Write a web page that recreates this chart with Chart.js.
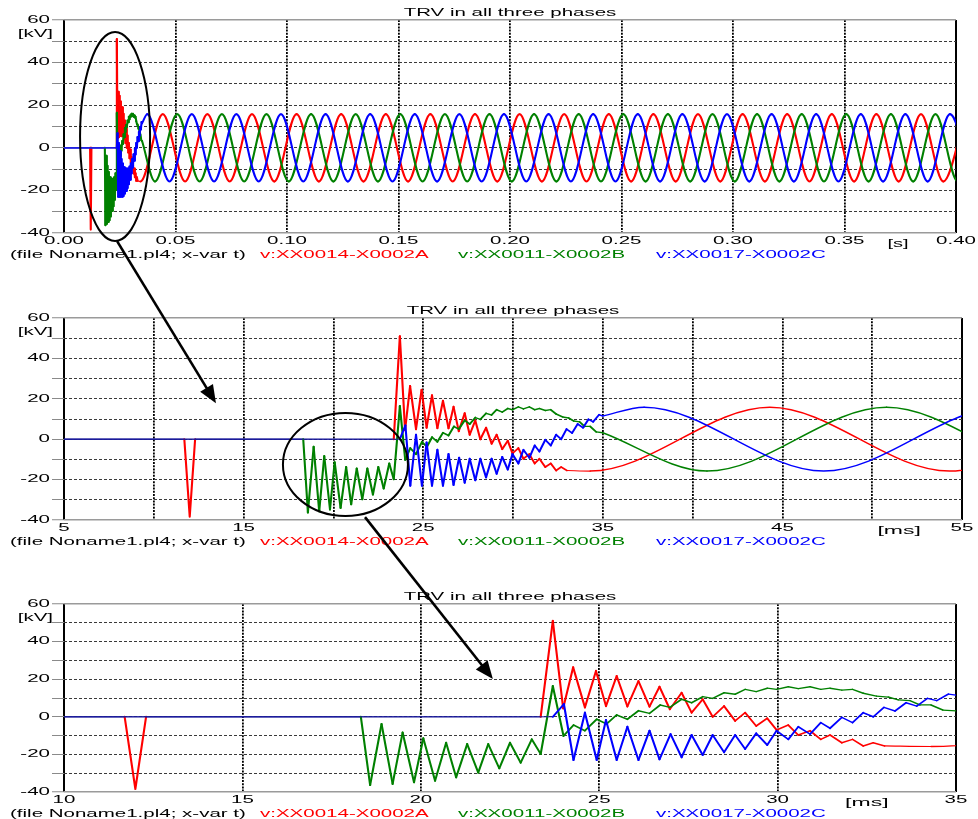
<!doctype html>
<html>
<head>
<meta charset="utf-8" />
<title>TRV in all three phases</title>
<script src="https://cdn.jsdelivr.net/npm/chart.js"></script>
<style>
  body { margin: 0; background: #fff; }
  #wrap { position: relative; width: 978px; height: 819px; }
  #wrap canvas { position: absolute; left: 0; top: 0; }
</style>
</head>
<body>
<div id="wrap">
  <canvas id="c1" width="978" height="819"></canvas>
  <canvas id="c2" width="978" height="819"></canvas>
  <canvas id="c3" width="978" height="819"></canvas>
</div>
<script>
// time in ms, voltage in kV
const TITLE = "TRV in all three phases";
const FILE_NOTE = "(file Noname1.pl4; x-var t)";
const NAMES = ["v:XX0014-X0002A", "v:XX0011-X0002B", "v:XX0017-X0002C"];

// switching transient (straight segments)
const redTransT = [0, 11.7, 12.0, 12.3, 23.36, 23.70, 23.99, 24.27, 24.60, 24.91, 25.19, 25.49, 25.79, 26.10, 26.41, 26.69, 26.98, 27.31, 27.59, 27.90, 28.18, 28.50, 28.81, 29.09, 29.40, 29.71, 29.97, 30.30, 30.58, 30.91, 31.21, 31.47, 31.80, 32.10, 32.40, 32.68, 33.0];
const redTransV = [0, 0, -38.4, 0, 0, 51.0, 4.5, 26.3, 5.0, 24.4, 5.7, 21.7, 5.5, 19.0, 5.4, 16.0, 4.0, 12.8, 2.2, 9.3, 0, 5.7, -2.2, 2.2, -4.9, -0.8, -7.0, -4.4, -9.7, -7.4, -12.0, -9.7, -13.8, -12.0, -15.5, -13.8, -15.5];

const greenTransT = [0, 18.32, 18.58, 18.90, 19.21, 19.49, 19.81, 20.07, 20.40, 20.71, 20.99, 21.30, 21.61, 21.89, 22.20, 22.50, 22.80, 23.11, 23.36, 23.70, 24.00, 24.28, 24.60, 24.93, 25.21, 25.49, 25.79, 26.10, 26.41, 26.71, 26.98, 27.31, 27.59, 27.90, 28.18, 28.50, 28.81, 29.09, 29.40, 29.71, 29.97, 30.30, 30.58, 30.91, 31.21, 31.47, 31.80, 32.10, 32.40, 32.77, 33.10, 33.38, 33.71, 33.99, 34.30, 34.63, 35.0];
const greenTransV = [0, 0, -36.3, -3.8, -35.7, -8.4, -34.8, -11.4, -34.0, -13.8, -32.2, -14.5, -29.7, -14.5, -27.4, -13.8, -24.4, -12.0, -19.8, 16.4, -10.2, -4.4, -7.4, -1.3, -3.8, 1.0, -1.3, 3.2, 1.8, 6.3, 5.0, 9.3, 7.5, 10.7, 9.8, 12.8, 12.0, 14.6, 13.4, 15.2, 14.6, 16.0, 15.0, 16.0, 14.6, 15.2, 14.2, 14.6, 12.5, 11.0, 10.5, 9.0, 8.6, 6.3, 6.3, 3.6, 3.2];

const blueTransT = [0, 23.70, 24.01, 24.28, 24.60, 24.93, 25.19, 25.49, 25.79, 26.10, 26.41, 26.69, 27.00, 27.31, 27.59, 27.90, 28.18, 28.50, 28.81, 29.09, 29.40, 29.71, 29.97, 30.30, 30.58, 30.91, 31.21, 31.47, 31.80, 32.10, 32.40, 32.68, 32.98, 33.29, 33.60, 33.90, 34.20, 34.46, 34.79, 35.0];
const blueTransV = [0, 0, 6.8, -23.0, 2.2, -23.0, -1.7, -23.0, -5.3, -23.0, -7.4, -22.6, -9.2, -21.5, -9.7, -20.3, -9.7, -18.9, -9.7, -17.1, -8.8, -15.0, -7.4, -12.0, -5.3, -9.2, -3.1, -6.1, -0.3, -3.1, 2.2, 0, 5.0, 3.1, 7.5, 5.7, 9.8, 8.6, 12.1, 11.5];

// 50 Hz steady state: peaks and troughs (smoothed by the library)
const redSteadyT = [33.0, 34.3, 44.3, 54.3, 64.3, 74.3, 84.3, 94.3, 104.3, 114.3, 124.3, 134.3, 144.3, 154.3, 164.3, 174.3, 184.3, 194.3, 204.3, 214.3, 224.3, 234.3, 244.3, 254.3, 264.3, 274.3, 284.3, 294.3, 304.3, 314.3, 324.3, 334.3, 344.3, 354.3, 364.3, 374.3, 384.3, 394.3, 404.3];
const redSteadyV = [-15.5, -15.8, 15.8, -15.8, 15.8, -15.8, 15.8, -15.8, 15.8, -15.8, 15.8, -15.8, 15.8, -15.8, 15.8, -15.8, 15.8, -15.8, 15.8, -15.8, 15.8, -15.8, 15.8, -15.8, 15.8, -15.8, 15.8, -15.8, 15.8, -15.8, 15.8, -15.8, 15.8, -15.8, 15.8, -15.8, 15.8, -15.8, 15.8];

const greenSteadyT = [35.0, 40.8, 50.8, 60.8, 70.8, 80.8, 90.8, 100.8, 110.8, 120.8, 130.8, 140.8, 150.8, 160.8, 170.8, 180.8, 190.8, 200.8, 210.8, 220.8, 230.8, 240.8, 250.8, 260.8, 270.8, 280.8, 290.8, 300.8, 310.8, 320.8, 330.8, 340.8, 350.8, 360.8, 370.8, 380.8, 390.8, 400.8, 410.8];
const greenSteadyV = [3.2, -15.8, 15.8, -15.8, 15.8, -15.8, 15.8, -15.8, 15.8, -15.8, 15.8, -15.8, 15.8, -15.8, 15.8, -15.8, 15.8, -15.8, 15.8, -15.8, 15.8, -15.8, 15.8, -15.8, 15.8, -15.8, 15.8, -15.8, 15.8, -15.8, 15.8, -15.8, 15.8, -15.8, 15.8, -15.8, 15.8, -15.8, 15.8];

const blueSteadyT = [35.0, 37.3, 47.3, 57.3, 67.3, 77.3, 87.3, 97.3, 107.3, 117.3, 127.3, 137.3, 147.3, 157.3, 167.3, 177.3, 187.3, 197.3, 207.3, 217.3, 227.3, 237.3, 247.3, 257.3, 267.3, 277.3, 287.3, 297.3, 307.3, 317.3, 327.3, 337.3, 347.3, 357.3, 367.3, 377.3, 387.3, 397.3, 407.3];
const blueSteadyV = [11.5, 15.8, -15.8, 15.8, -15.8, 15.8, -15.8, 15.8, -15.8, 15.8, -15.8, 15.8, -15.8, 15.8, -15.8, 15.8, -15.8, 15.8, -15.8, 15.8, -15.8, 15.8, -15.8, 15.8, -15.8, 15.8, -15.8, 15.8, -15.8, 15.8, -15.8, 15.8, -15.8, 15.8, -15.8, 15.8, -15.8, 15.8, -15.8];

const RED = "#ff0000", GREEN = "#008000", BLUE = "#0000ff";
// the plot's lettering is a plain sans stretched about 2x sideways
const FONT_CSS = '10px "Liberation Sans", Arial, sans-serif';
const STRETCH = 2.05;
const LEGEND_X = [10, 260, 458, 656];

// callouts: ellipse centre/radii and arrows, in the data units of each panel
const ellipses = [
  { panel: 0, t: 22.9, v: 5.3, rt: 15.7, rv: 49.1 },
  { panel: 1, t: 20.67, v: -12.5, rt: 3.48, rv: 25.5 }
];
const arrows = [
  { from: 0, t0: 23.8, v0: -43.8, to: 1, t1: 13.46, v1: 17.8 },
  { from: 1, t0: 21.76, v0: -38.6, to: 2, t1: 22.02, v1: 20.1 }
];

function pts(ts, vs) {
  return ts.map((t, i) => ({ x: t, y: vs[i] }));
}

function isZeroSeg(sc) {
  return sc.p0.parsed.y === 0 && sc.p1.parsed.y === 0;
}

// the reference looks squeezed vertically: steep strokes read thicker than flat ones
function segWidth(sc) {
  const dx = sc.p1.x - sc.p0.x, dy = sc.p1.y - sc.p0.y;
  const len = Math.hypot(dx, dy) || 1;
  return 1.2 + 0.9 * Math.abs(dy) / len;
}

function phaseSets(name, color, order, zero, trT, trV, stT, stV) {
  const common = {
    label: name,
    borderColor: color,
    pointRadius: 0,
    fill: false,
    order: order,
    borderCapStyle: "round",
    borderJoinStyle: "round",
    segment: {
      borderWidth: (sc) => (isZeroSeg(sc) ? zero.width : segWidth(sc)),
      borderColor: (sc) => (isZeroSeg(sc) ? zero.color : undefined),
    },
  };
  return [
    Object.assign({}, common, { data: pts(trT, trV), tension: 0 }),
    Object.assign({}, common, { data: pts(stT, stV), cubicInterpolationMode: "monotone" }),
  ];
}

function wideText(ctx, text, x, y, align, sx) {
  const w = ctx.measureText(text).width * sx;
  let left = x;
  if (align === "center") left = x - w / 2;
  if (align === "right") left = x - w;
  ctx.save();
  ctx.translate(left, y);
  ctx.scale(sx, 1);
  ctx.textAlign = "left";
  ctx.fillText(text, 0, 0);
  ctx.restore();
}

const panelText = {
  id: "panelText",
  afterDraw(chart, args, o) {
    const { ctx, chartArea: a, scales } = chart;
    ctx.save();
    ctx.font = FONT_CSS;
    ctx.textBaseline = "middle";
    ctx.fillStyle = "#000";
    // tick labels, placed from the library's own scales
    scales.x.ticks.forEach((t) => {
      const s = o.xLabel(t.value);
      if (s) wideText(ctx, s, scales.x.getPixelForValue(t.value), a.bottom + 8.5, "center", STRETCH);
    });
    scales.y.ticks.forEach((t) => {
      if (t.value % 20 === 0) wideText(ctx, String(t.value), a.left - 14, scales.y.getPixelForValue(t.value), "right", STRETCH);
    });
    wideText(ctx, TITLE, (a.left + a.right) / 2, a.top - 6.5, "center", STRETCH);
    wideText(ctx, "[kV]", a.left - 11, a.top + 14, "right", STRETCH);
    wideText(ctx, o.unit, scales.x.getPixelForValue(o.unitAt), a.bottom + 11.5, "center", o.unitStretch);
    const ly = a.bottom + 22;
    wideText(ctx, FILE_NOTE, LEGEND_X[0], ly, "left", STRETCH);
    [RED, GREEN, BLUE].forEach((c, i) => {
      ctx.fillStyle = c;
      wideText(ctx, NAMES[i], LEGEND_X[i + 1], ly, "left", STRETCH);
    });
    ctx.restore();
  },
};

const panels = [];

const callouts = {
  id: "callouts",
  afterDraw(chart) {
    const charts = [panels[0], panels[1], chart];
    if (!charts[0] || !charts[1]) return;
    const ctx = chart.ctx;
    const px = (c, t, v) => [c.scales.x.getPixelForValue(t), c.scales.y.getPixelForValue(v)];
    ctx.save();
    ctx.strokeStyle = "#000";
    ctx.fillStyle = "#000";
    ctx.lineWidth = 2;
    ellipses.forEach((e) => {
      const c = charts[e.panel];
      const [cx, cy] = px(c, e.t, e.v);
      const rx = Math.abs(c.scales.x.getPixelForValue(e.t + e.rt) - cx);
      const ry = Math.abs(c.scales.y.getPixelForValue(e.v + e.rv) - cy);
      ctx.beginPath();
      ctx.ellipse(cx, cy, rx, ry, 0, 0, Math.PI * 2);
      ctx.stroke();
    });
    ctx.lineWidth = 2.6;
    arrows.forEach((r) => {
      const [x0, y0] = px(charts[r.from], r.t0, r.v0);
      const [x1, y1] = px(charts[r.to], r.t1, r.v1);
      const ang = Math.atan2(y1 - y0, x1 - x0);
      const cs = Math.cos(ang), sn = Math.sin(ang);
      const hl = 18, hw = 7.5;
      const bx = x1 - hl * cs, by = y1 - hl * sn;
      ctx.beginPath();
      ctx.moveTo(x0, y0);
      ctx.lineTo(bx + 2 * cs, by + 2 * sn);
      ctx.stroke();
      ctx.beginPath();
      ctx.moveTo(x1, y1);
      ctx.lineTo(bx + hw * sn, by - hw * cs);
      ctx.lineTo(bx - hw * sn, by + hw * cs);
      ctx.closePath();
      ctx.fill();
    });
    ctx.restore();
  },
};

function makePanel(id, p) {
  const xEdge = (c) => c.tick && (c.tick.value === p.min || c.tick.value === p.max);
  const yEdge = (c) => c.tick && (c.tick.value === -40 || c.tick.value === 60);
  return new Chart(document.getElementById(id), {
    type: "line",
    data: {
      datasets: [
        ...phaseSets(NAMES[0], RED, 3, p.zero, redTransT, redTransV, redSteadyT, redSteadyV),
        ...phaseSets(NAMES[1], GREEN, 2, p.zero, greenTransT, greenTransV, greenSteadyT, greenSteadyV),
        ...phaseSets(NAMES[2], BLUE, 1, p.zero, blueTransT, blueTransV, blueSteadyT, blueSteadyV),
      ],
    },
    options: {
      responsive: false,
      animation: false,
      devicePixelRatio: 1,
      events: [],
      layout: { padding: { top: p.top, right: 978 - p.right, bottom: 819 - p.bottom - 20, left: 0 } },
      plugins: {
        legend: { display: false },
        tooltip: { enabled: false },
        panelText: { unit: p.unit, unitAt: p.unitAt, unitStretch: p.unitStretch, xLabel: p.label },
      },
      scales: {
        x: {
          type: "linear",
          min: p.min,
          max: p.max,
          afterFit: (s) => { s.height = 20; },
          ticks: { stepSize: p.step, autoSkip: false, maxRotation: 0, display: false },
          grid: { drawTicks: false, color: "#000", lineWidth: (c) => (xEdge(c) ? 2 : 1.8) },
          border: { display: false, dash: (c) => (c.tick && !xEdge(c) ? [2, 1.2] : []) },
        },
        y: {
          min: -40,
          max: 60,
          afterFit: (s) => { s.width = 64; },
          ticks: { stepSize: 10, display: false },
          grid: {
            tickLength: 12,
            tickWidth: 1,
            tickColor: "#8a8a8a",
            tickBorderDash: [],
            color: (c) => (yEdge(c) ? "#9a9a9a" : "#3a3a3a"),
            lineWidth: (c) => (yEdge(c) ? 1.5 : 1),
          },
          border: { display: false, dash: (c) => (c.tick && !yEdge(c) ? [3, 2] : []) },
        },
      },
    },
    plugins: [panelText].concat(p.extra || []),
  });
}

panels.push(makePanel("c1", {
  top: 20, bottom: 233, right: 956, min: 0, max: 400, step: 50,
  label: (v) => (v / 1000).toFixed(2), unit: "[s]", unitAt: 374, unitStretch: 2.0,
  zero: { color: "#1f1fe0", width: 1.6 },
}));
panels.push(makePanel("c2", {
  top: 318, bottom: 520, right: 962, min: 5, max: 55, step: 5,
  label: (v) => ((v - 5) % 10 === 0 ? String(v) : ""), unit: "[ms]", unitAt: 51.5, unitStretch: 2.3,
  zero: { color: "#1a1a9a", width: 1 },
}));
panels.push(makePanel("c3", {
  top: 604, bottom: 792, right: 956, min: 10, max: 35, step: 5,
  label: (v) => String(v), unit: "[ms]", unitAt: 32.5, unitStretch: 2.3,
  zero: { color: "#1a1a9a", width: 1 }, extra: [callouts],
}));
</script>
</body>
</html>
